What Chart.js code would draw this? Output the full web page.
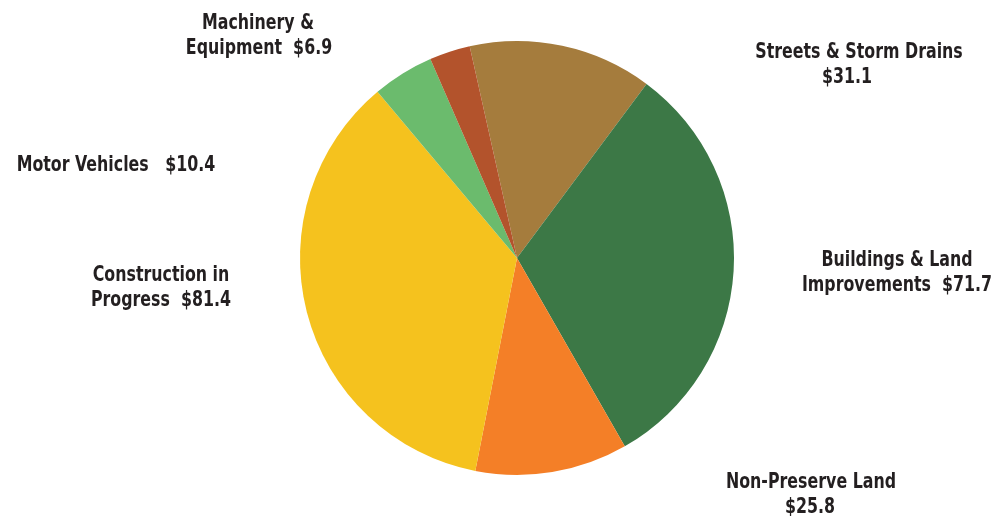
<!DOCTYPE html>
<html>
<head>
<meta charset="utf-8">
<script src="https://cdn.jsdelivr.net/npm/chart.js@4"></script>
<style>
  html, body { margin: 0; padding: 0; background: #fff; }
  #wrap { width: 997px; height: 516px; position: relative; }
</style>
</head>
<body>
<div id="wrap"><canvas id="chart" width="997" height="516"></canvas></div>
<script>
// capital assets, $ millions
const categories = [
  'Streets & Storm Drains',
  'Buildings & Land Improvements',
  'Non-Preserve Land',
  'Construction in Progress',
  'Motor Vehicles',
  'Machinery & Equipment'
];
const amounts = [31.1, 71.7, 25.8, 81.4, 10.4, 6.9];
const sliceColors = ['#a57c3d', '#3c7846', '#f47f27', '#f5c21e', '#6bbb6d', '#b3532c'];

// label text lines per slice; the value goes on the last line
const labelLines = [
  ['Streets & Storm Drains', '$'],
  ['Buildings & Land', 'Improvements  $'],
  ['Non-Preserve Land', '$'],
  ['Construction in', 'Progress  $'],
  ['Motor Vehicles   $'],
  ['Machinery &', 'Equipment  $']
];
// where each label block sits (x per line, y of first line)
const labelPos = [
  { xs: [859, 847], y: 52 },
  { xs: [897, 897], y: 260 },
  { xs: [811, 810], y: 482 },
  { xs: [161, 161], y: 275 },
  { xs: [116], y: 165 },
  { xs: [258, 259], y: 23 }
];

const labelFont = 'bold 22px "Liberation Sans Narrow", "DejaVu Sans Condensed", "DejaVu Sans", sans-serif';
const squeeze = 0.8; // narrow the glyphs horizontally

const outsideLabels = {
  id: 'outsideLabels',
  afterDraw(chart) {
    const ctx = chart.ctx;
    const values = chart.data.datasets[0].data;
    ctx.save();
    ctx.font = labelFont;
    ctx.fillStyle = '#231f20';
    ctx.textAlign = 'center';
    ctx.textBaseline = 'middle';
    labelLines.forEach((lines, i) => {
      const pos = labelPos[i];
      lines.forEach((line, j) => {
        let text = line;
        if (j === lines.length - 1) text += values[i].toFixed(1);
        ctx.save();
        ctx.translate(pos.xs[j], pos.y + j * 25);
        ctx.scale(squeeze, 1);
        ctx.fillText(text, 0, 0);
        ctx.restore();
      });
    });
    ctx.restore();
  }
};

new Chart(document.getElementById('chart'), {
  type: 'pie',
  data: {
    labels: categories,
    datasets: [{
      data: amounts,
      backgroundColor: sliceColors,
      borderWidth: 0
    }]
  },
  options: {
    responsive: false,
    animation: false,
    rotation: -12.6,
    layout: { padding: { left: 300, right: 263, top: 41, bottom: 41 } },
    plugins: {
      legend: { display: false },
      tooltip: { enabled: false }
    }
  },
  plugins: [outsideLabels]
});
</script>
</body>
</html>
